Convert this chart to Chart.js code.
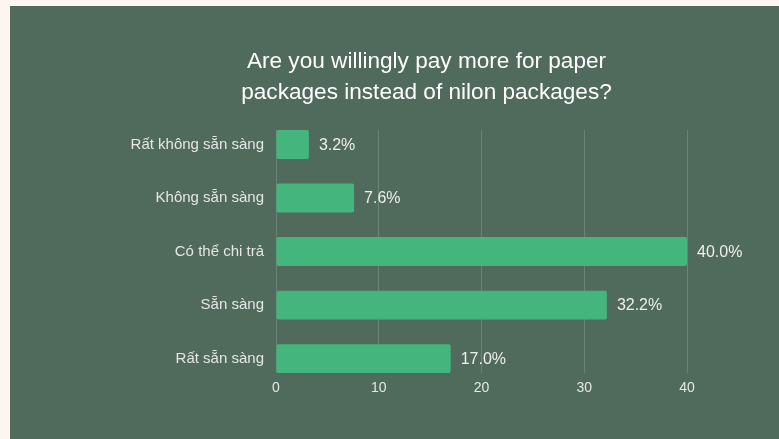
<!DOCTYPE html>
<html>
<head>
<meta charset="utf-8">
<script src="https://cdn.jsdelivr.net/npm/chart.js@4"></script>
<style>
  html, body { margin: 0; padding: 0; background: #fdf5ef; width: 779px; height: 439px; overflow: hidden; }
  #panel { position: absolute; left: 10px; top: 6px; width: 769px; height: 433px; background: #506b5b; }
  canvas { display: block; }
</style>
</head>
<body>
<div id="panel"><canvas id="c" width="769" height="433"></canvas></div>
<script>
const categories = ["Rất không sẵn sàng", "Không sẵn sàng", "Có thể chi trả", "Sẵn sàng", "Rất sẵn sàng"];
const percentValues = [3.2, 7.6, 40.0, 32.2, 17.0];
const xTicks = [0, 10, 20, 30, 40];
const titleLines = ["Are you willingly pay more for paper", "packages instead of nilon packages?"];

const FONT = "'Liberation Sans', Arial, Helvetica, sans-serif";
Chart.defaults.font.family = FONT;

const valueLabels = {
  id: 'valueLabels',
  afterDatasetsDraw(chart) {
    const ctx = chart.ctx;
    const meta = chart.getDatasetMeta(0);
    ctx.save();
    ctx.font = "16px " + FONT;
    ctx.fillStyle = '#eeeeee';
    ctx.textAlign = 'left';
    ctx.textBaseline = 'middle';
    meta.data.forEach((bar, i) => {
      ctx.fillText(percentValues[i].toFixed(1) + '%', bar.x + 10, bar.y + 1);
    });
    ctx.restore();
  }
};

new Chart(document.getElementById('c'), {
  type: 'bar',
  data: {
    datasets: [{
      data: percentValues.map((v, i) => ({ x: v, y: i })),
      backgroundColor: '#44b57c',
      borderWidth: 0,
      borderRadius: 2,
      borderSkipped: false,
      barPercentage: 0.54,
      categoryPercentage: 1
    }]
  },
  options: {
    indexAxis: 'y',
    responsive: false,
    animation: false,
    layout: { padding: { left: 116, right: 52, top: 0, bottom: 35 } },
    plugins: {
      legend: { display: false },
      tooltip: { enabled: false },
      title: {
        display: true,
        text: titleLines,
        color: '#ffffff',
        font: { size: 22.6, weight: 'normal', lineHeight: 1.37 },
        padding: { top: 40, bottom: 22 }
      }
    },
    scales: {
      x: {
        type: 'linear',
        min: 0,
        max: 43.89,
        afterBuildTicks(scale) { scale.ticks = xTicks.map(v => ({ value: v })); },
        grid: { color: '#6a8575', lineWidth: 1, drawTicks: false },
        border: { display: false },
        ticks: { color: '#e6e6e6', font: { size: 14 }, padding: 7, maxRotation: 0 }
      },
      y: {
        type: 'linear',
        reverse: true,
        offset: false,
        min: -0.273,
        max: 4.273,
        afterBuildTicks(scale) { scale.ticks = categories.map((c, i) => ({ value: i })); },
        afterFit(scale) { scale.width = 150; },
        grid: { display: false, drawTicks: false, offset: false },
        border: { display: false },
        ticks: {
          color: '#e6e6e6',
          font: { size: 15 },
          padding: 12,
          callback: (value) => categories[value]
        }
      }
    }
  },
  plugins: [valueLabels]
});
</script>
</body>
</html>
